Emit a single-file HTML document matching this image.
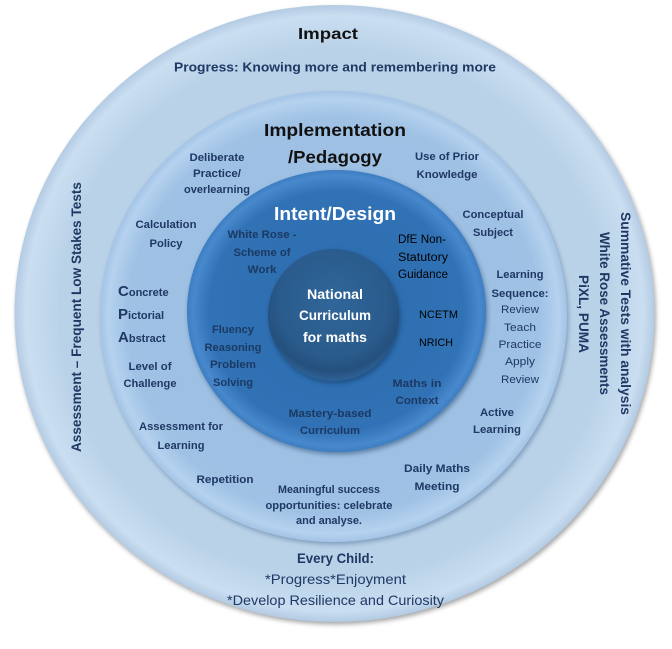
<!DOCTYPE html>
<html>
<head>
<meta charset="utf-8">
<style>
html,body{margin:0;padding:0;background:#fff;}
svg{display:block;}
text{font-family:"Liberation Sans",Arial,sans-serif;}
.b{font-weight:bold;}
.n{fill:#1f3864;}
.d{fill:#1c3963;}
</style>
</head>
<body>
<svg width="672" height="649" viewBox="0 0 672 649" xmlns="http://www.w3.org/2000/svg">
<defs>
  <filter id="sh" x="-10%" y="-10%" width="120%" height="120%">
    <feGaussianBlur stdDeviation="2.5"/>
  </filter>
  <radialGradient id="gOuter" cx="50%" cy="50%" r="50%">
    <stop offset="0" stop-color="#b9d1e8"/>
    <stop offset="0.86" stop-color="#bad2e8"/>
    <stop offset="0.965" stop-color="#cadef1"/>
    <stop offset="1" stop-color="#b3cbe3"/>
  </radialGradient>
  <radialGradient id="gImpl" cx="50%" cy="50%" r="50%">
    <stop offset="0" stop-color="#9bbde1"/>
    <stop offset="0.88" stop-color="#9fc1e4"/>
    <stop offset="0.965" stop-color="#b5d2ef"/>
    <stop offset="1" stop-color="#a4c4e6"/>
  </radialGradient>
  <radialGradient id="gIntent" cx="50%" cy="50%" r="50%">
    <stop offset="0" stop-color="#2c6cae"/>
    <stop offset="0.85" stop-color="#3072b5"/>
    <stop offset="0.96" stop-color="#4888cc"/>
    <stop offset="1" stop-color="#3d7dc1"/>
  </radialGradient>
  <radialGradient id="gInner" cx="50%" cy="40%" r="60%">
    <stop offset="0" stop-color="#30669a"/>
    <stop offset="0.7" stop-color="#2a5b8c"/>
    <stop offset="0.88" stop-color="#24507d"/>
    <stop offset="1" stop-color="#2f6398"/>
  </radialGradient>
</defs>

<!-- outer disc -->
<ellipse cx="336" cy="316" rx="320" ry="308.5" fill="#000" opacity="0.35" filter="url(#sh)"/>
<ellipse cx="334.5" cy="313.5" rx="320" ry="308.5" fill="url(#gOuter)"/>

<!-- implementation disc -->
<ellipse cx="335" cy="319" rx="233.5" ry="225.5" fill="#3a5f88" opacity="0.45" filter="url(#sh)"/>
<ellipse cx="333.5" cy="316.5" rx="233.5" ry="225.5" fill="url(#gImpl)"/>

<!-- intent disc -->
<ellipse cx="338" cy="313.5" rx="149.5" ry="141" fill="#1d3f66" opacity="0.5" filter="url(#sh)"/>
<ellipse cx="336.5" cy="311" rx="149.5" ry="141" fill="url(#gIntent)"/>

<!-- inner disc -->
<ellipse cx="335" cy="317.5" rx="65.5" ry="66" fill="#102a48" opacity="0.45" filter="url(#sh)"/>
<ellipse cx="333.5" cy="315" rx="65.5" ry="66" fill="url(#gInner)"/>

<!-- Outer ring texts -->
<text x="328" y="39" font-size="16" class="b" fill="#111" text-anchor="middle" textLength="60" lengthAdjust="spacingAndGlyphs">Impact</text>
<text x="335" y="71.5" font-size="12.5" class="b n" text-anchor="middle" textLength="322" lengthAdjust="spacingAndGlyphs">Progress: Knowing more and remembering more</text>

<g transform="translate(81,317) rotate(-90)">
  <text x="0" y="0" font-size="14" class="b n" text-anchor="middle" textLength="270" lengthAdjust="spacingAndGlyphs">Assessment – Frequent Low Stakes Tests</text>
</g>
<g transform="translate(621,313.5) rotate(90)">
  <text x="0" y="0" font-size="14" class="b n" text-anchor="middle" textLength="203" lengthAdjust="spacingAndGlyphs">Summative Tests with analysis</text>
</g>
<g transform="translate(600,313.5) rotate(90)">
  <text x="0" y="0" font-size="14" class="b n" text-anchor="middle" textLength="163" lengthAdjust="spacingAndGlyphs">White Rose Assessments</text>
</g>
<g transform="translate(579,314) rotate(90)">
  <text x="0" y="0" font-size="14" class="b n" text-anchor="middle" textLength="78" lengthAdjust="spacingAndGlyphs">PiXL, PUMA</text>
</g>

<text x="335.5" y="563" font-size="14" class="b n" text-anchor="middle" textLength="77" lengthAdjust="spacingAndGlyphs">Every Child:</text>
<text x="335.5" y="584" font-size="14" class="n" text-anchor="middle" textLength="141" lengthAdjust="spacingAndGlyphs">*Progress*Enjoyment</text>
<text x="335.5" y="605" font-size="14" class="n" text-anchor="middle" textLength="217" lengthAdjust="spacingAndGlyphs">*Develop Resilience and Curiosity</text>

<!-- Implementation ring texts -->
<text x="335" y="136" font-size="17.5" class="b" fill="#111" text-anchor="middle" textLength="142" lengthAdjust="spacingAndGlyphs">Implementation</text>
<text x="335" y="163" font-size="17.5" class="b" fill="#111" text-anchor="middle" textLength="94" lengthAdjust="spacingAndGlyphs">/Pedagogy</text>

<g font-size="11" text-anchor="middle">
  <text x="217" y="161" class="b n" textLength="55" lengthAdjust="spacingAndGlyphs">Deliberate</text>
  <text x="217" y="177" class="b n" textLength="48" lengthAdjust="spacingAndGlyphs">Practice/</text>
  <text x="217" y="193" class="b n" textLength="66" lengthAdjust="spacingAndGlyphs">overlearning</text>

  <text x="447" y="160" class="b n" textLength="64" lengthAdjust="spacingAndGlyphs">Use of Prior</text>
  <text x="447" y="178" class="b n" textLength="61" lengthAdjust="spacingAndGlyphs">Knowledge</text>

  <text x="493" y="218" class="b n" textLength="61" lengthAdjust="spacingAndGlyphs">Conceptual</text>
  <text x="493" y="236" class="b n" textLength="40" lengthAdjust="spacingAndGlyphs">Subject</text>

  <text x="166" y="228" class="b n" textLength="61" lengthAdjust="spacingAndGlyphs">Calculation</text>
  <text x="166" y="247" class="b n" textLength="33" lengthAdjust="spacingAndGlyphs">Policy</text>

  <text x="150" y="370" class="b n" textLength="43" lengthAdjust="spacingAndGlyphs">Level of</text>
  <text x="150" y="387" class="b n" textLength="53" lengthAdjust="spacingAndGlyphs">Challenge</text>

  <text x="520" y="278" class="b n" textLength="47" lengthAdjust="spacingAndGlyphs">Learning</text>
  <text x="520" y="297" class="b n" textLength="57" lengthAdjust="spacingAndGlyphs">Sequence:</text>
  <text x="520" y="313" class="n" textLength="38" lengthAdjust="spacingAndGlyphs">Review</text>
  <text x="520" y="331" class="n" textLength="32" lengthAdjust="spacingAndGlyphs">Teach</text>
  <text x="520" y="348" class="n" textLength="43" lengthAdjust="spacingAndGlyphs">Practice</text>
  <text x="520" y="365" class="n" textLength="30" lengthAdjust="spacingAndGlyphs">Apply</text>
  <text x="520" y="383" class="n" textLength="38" lengthAdjust="spacingAndGlyphs">Review</text>

  <text x="497" y="416" class="b n" textLength="34" lengthAdjust="spacingAndGlyphs">Active</text>
  <text x="497" y="433" class="b n" textLength="48" lengthAdjust="spacingAndGlyphs">Learning</text>

  <text x="181" y="430" class="b n" textLength="84" lengthAdjust="spacingAndGlyphs">Assessment for</text>
  <text x="181" y="449" class="b n" textLength="47" lengthAdjust="spacingAndGlyphs">Learning</text>

  <text x="437" y="472" class="b n" textLength="66" lengthAdjust="spacingAndGlyphs">Daily Maths</text>
  <text x="437" y="490" class="b n" textLength="45" lengthAdjust="spacingAndGlyphs">Meeting</text>

  <text x="225" y="483" class="b n" textLength="57" lengthAdjust="spacingAndGlyphs">Repetition</text>

  <text x="329" y="493" class="b n" textLength="102" lengthAdjust="spacingAndGlyphs">Meaningful success</text>
  <text x="329" y="509" class="b n" textLength="127" lengthAdjust="spacingAndGlyphs">opportunities: celebrate</text>
  <text x="329" y="524" class="b n" textLength="66" lengthAdjust="spacingAndGlyphs">and analyse.</text>
</g>

<!-- Concrete Pictorial Abstract -->
<text x="118" y="296" class="b n" font-size="11"><tspan font-size="15">C</tspan>oncrete</text>
<text x="118" y="319" class="b n" font-size="11"><tspan font-size="15">P</tspan>ictorial</text>
<text x="118" y="342" class="b n" font-size="11"><tspan font-size="15">A</tspan>bstract</text>

<!-- Intent ring texts -->
<text x="335" y="220" font-size="18" class="b" fill="#ffffff" text-anchor="middle" textLength="122" lengthAdjust="spacingAndGlyphs">Intent/Design</text>

<g font-size="11" text-anchor="middle">
  <text x="262" y="238" class="b d" textLength="69" lengthAdjust="spacingAndGlyphs">White Rose -</text>
  <text x="262" y="256" class="b d" textLength="57" lengthAdjust="spacingAndGlyphs">Scheme of</text>
  <text x="262" y="273" class="b d" textLength="29" lengthAdjust="spacingAndGlyphs">Work</text>

  <text x="233" y="333" class="b d" textLength="42" lengthAdjust="spacingAndGlyphs">Fluency</text>
  <text x="233" y="351" class="b d" textLength="57" lengthAdjust="spacingAndGlyphs">Reasoning</text>
  <text x="233" y="368" class="b d" textLength="46" lengthAdjust="spacingAndGlyphs">Problem</text>
  <text x="233" y="386" class="b d" textLength="40" lengthAdjust="spacingAndGlyphs">Solving</text>

  <text x="417" y="387" class="b d" textLength="49" lengthAdjust="spacingAndGlyphs">Maths in</text>
  <text x="417" y="404" class="b d" textLength="43" lengthAdjust="spacingAndGlyphs">Context</text>

  <text x="330" y="417" class="b d" textLength="83" lengthAdjust="spacingAndGlyphs">Mastery-based</text>
  <text x="330" y="434" class="b d" textLength="60" lengthAdjust="spacingAndGlyphs">Curriculum</text>
</g>

<g font-size="11.5" fill="#000">
  <text x="398" y="243" textLength="48" lengthAdjust="spacingAndGlyphs">DfE Non-</text>
  <text x="398" y="261" textLength="50" lengthAdjust="spacingAndGlyphs">Statutory</text>
  <text x="398" y="278" textLength="50" lengthAdjust="spacingAndGlyphs">Guidance</text>
  <text x="419" y="318" font-size="11" textLength="39" lengthAdjust="spacingAndGlyphs">NCETM</text>
  <text x="419" y="346" font-size="11" textLength="34" lengthAdjust="spacingAndGlyphs">NRICH</text>
</g>

<!-- Inner texts -->
<g font-size="14" fill="#ffffff" text-anchor="middle">
  <text x="335" y="299" class="b" fill="#fff" textLength="56" lengthAdjust="spacingAndGlyphs">National</text>
  <text x="335" y="320" class="b" fill="#fff" textLength="72" lengthAdjust="spacingAndGlyphs">Curriculum</text>
  <text x="335" y="342" class="b" fill="#fff" textLength="64" lengthAdjust="spacingAndGlyphs">for maths</text>
</g>
</svg>
</body>
</html>
